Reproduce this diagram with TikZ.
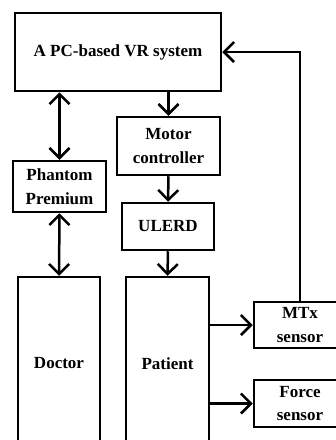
\documentclass[tikz,border=0pt]{standalone}
\usepackage{fontspec}
\setmainfont{Liberation Serif}
\usetikzlibrary{arrows.meta}
\tikzset{
  blk/.style={draw, line width=2.5pt, inner sep=0pt, align=center,
    font=\fontsize{17}{23.5}\selectfont\bfseries},
  conn/.style={line width=2.5pt, -{Straight Barb[length=10pt,width=20pt,line width=2.5pt]}},
  dconn/.style={line width=2.5pt, {Straight Barb[length=10pt,width=20pt,line width=2.5pt]}-{Straight Barb[length=10pt,width=20pt,line width=2.5pt]}}
}
\begin{document}
\begin{tikzpicture}[x=1pt,y=-1pt]
\useasboundingbox (0,0) rectangle (336,440);
\clip (0,0) rectangle (336,440);
\node[blk, minimum width=206pt, minimum height=78pt] (vr) at (118,52) {A PC-based VR system};
\node[blk, minimum width=103pt, minimum height=58pt] (motor) at (168.5,146) {Motor\\controller};
\node[blk, minimum width=93pt, minimum height=51pt] (phantom) at (59.5,186.5) {Phantom\\Premium};
\node[blk, minimum width=92pt, minimum height=47pt] (ulerd) at (168,226.5) {ULERD};
\node[blk, minimum width=82pt, minimum height=173pt] (doctor) at (59,363.5) {Doctor};
\node[blk, minimum width=83pt, minimum height=173pt] (patient) at (167.5,363.5) {Patient};
\node[blk, minimum width=92pt, minimum height=46pt] (mtx) at (300,325) {MTx\\sensor};
\node[blk, minimum width=92pt, minimum height=47pt] (force) at (300,403.5) {Force\\sensor};
\draw[dconn] (phantom.north) -- (phantom.north |- vr.south);
\draw[dconn] (phantom.south) -- (doctor.north);
\draw[conn] (motor.north |- vr.south) -- (motor.north);
\draw[conn] (motor.south) -- (ulerd.north);
\draw[conn] (ulerd.south) -- (patient.north);
\draw[conn] (mtx.west -| patient.east) -- (mtx.west);
\draw[conn] (force.west -| patient.east) -- (force.west);
\draw[conn] (mtx.north) |- (vr.east);
\end{tikzpicture}
\end{document}
